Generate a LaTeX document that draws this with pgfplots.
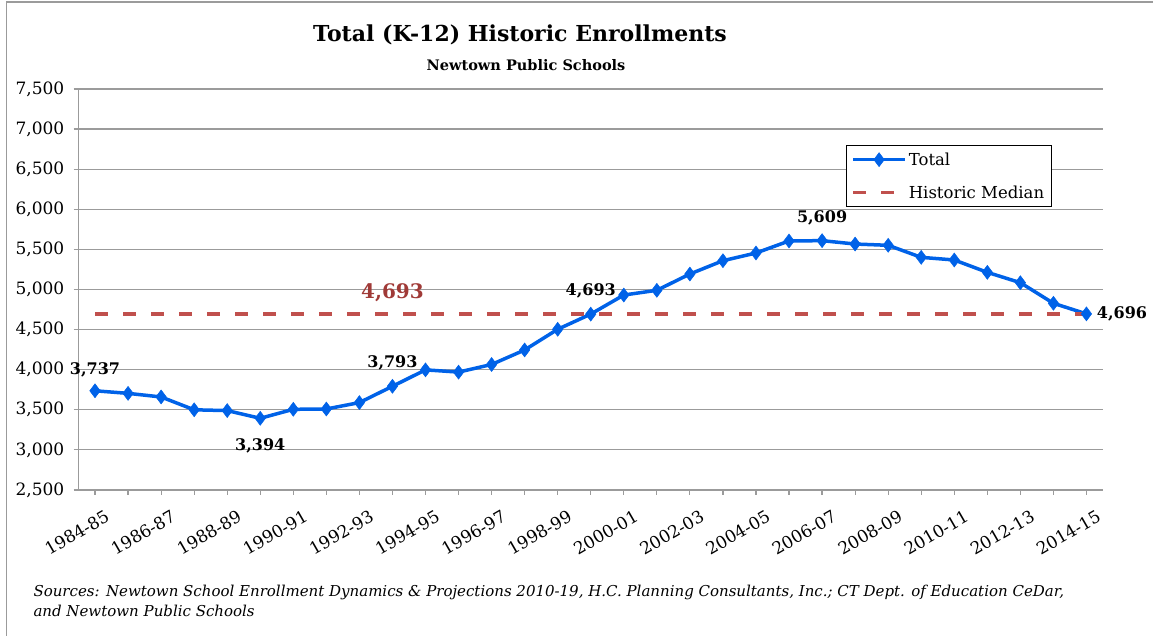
\documentclass[border=0pt]{standalone}
\usepackage{pgfplots}
\pgfplotsset{compat=1.18}
\usepackage{fontspec}
\setmainfont{DejaVu Serif}

\definecolor{totalblue}{RGB}{0,98,232}
\definecolor{medianred}{RGB}{192,80,77}
\definecolor{medlabel}{RGB}{160,58,55}
\definecolor{gridgray}{RGB}{155,155,155}

% Total K-12 enrollment, index 0 = 1984-85 ... 30 = 2014-15
\pgfplotstableread{
idx total
0  3737
1  3705
2  3660
3  3500
4  3490
5  3394
6  3506
7  3510
8  3590
9  3793
10 3998
11 3970
12 4065
13 4246
14 4504
15 4693
16 4931
17 4990
18 5193
19 5359
20 5455
21 5605
22 5609
23 5567
24 5551
25 5401
26 5368
27 5214
28 5085
29 4828
30 4696
}\enrolltable

\begin{document}
\begin{tikzpicture}
\draw[gridgray, line width=1.2pt] (6.5pt,0pt) -- (6.5pt,634pt) -- (1153pt,634pt);

\node[font=\bfseries\fontsize{22}{26}\selectfont] at (520pt,601pt) {Total (K-12) Historic Enrollments};
\node[font=\bfseries\fontsize{14.5}{17}\selectfont] at (526pt,571pt) {Newtown Public Schools};

\begin{axis}[
    at={(78.5pt,146pt)}, anchor=south west,
    scale only axis,
    width=1024.5pt, height=401pt,
    xmin=-0.5, xmax=30.5,
    ymin=2500, ymax=7500,
    ytick={2500,3000,...,7500},
    xtick={0,...,30},
    xticklabels={1984-85,,1986-87,,1988-89,,1990-91,,1992-93,,1994-95,,1996-97,,1998-99,,2000-01,,2002-03,,2004-05,,2006-07,,2008-09,,2010-11,,2012-13,,2014-15},
    axis x line=bottom, axis y line=left,
    axis line style={gridgray, line width=1.2pt, -},
    ymajorgrids,
    grid style={gridgray, line width=1.2pt},
    tick style={gridgray, line width=1.2pt},
    tick align=outside,
    major tick length=5pt,
    /pgf/number format/assume math mode=true,
    /pgf/number format/1000 sep={,},
    yticklabel style={font=\fontsize{17}{20}\selectfont, inner sep=0pt, xshift=-9pt},
    xticklabel style={font=\fontsize{17}{20}\selectfont, rotate=30, anchor=north east, inner sep=1pt, xshift=2pt, yshift=-16pt},
    legend style={at={(0.749,0.860)}, anchor=north west, draw=black, line width=1pt,
                  font=\fontsize{16.5}{20}\selectfont, row sep=15pt, inner sep=5pt},
    legend cell align=left,
    legend image code/.code={\draw[mark repeat=2,mark phase=2,#1] plot coordinates {(0pt,0pt)(26pt,0pt)(52pt,0pt)};},
    clip=false,
]
\addplot[totalblue, line width=3.5pt, mark=diamond*, mark size=7pt,
         mark options={solid, line width=0.5pt}] table[x=idx, y=total] {\enrolltable};
\addlegendentry{Total}
\addplot[medianred, line width=3.5pt, dash pattern=on 13pt off 15pt] coordinates {(0,4693) (30,4693)};
\addlegendentry{Historic Median}

\node[font=\bfseries\fontsize{16}{19}\selectfont, yshift=21pt] at (axis cs:0,3737) {3,737};
\node[font=\bfseries\fontsize{16}{19}\selectfont, yshift=-28pt] at (axis cs:5,3394) {3,394};
\node[font=\bfseries\fontsize{16}{19}\selectfont, yshift=23pt] at (axis cs:9,3793) {3,793};
\node[font=\bfseries\fontsize{16}{19}\selectfont, yshift=23pt] at (axis cs:15,4693) {4,693};
\node[font=\bfseries\fontsize{16}{19}\selectfont, yshift=23pt] at (axis cs:22,5609) {5,609};
\node[font=\bfseries\fontsize{16}{19}\selectfont, anchor=west, xshift=7pt] at (axis cs:30,4696) {4,696};
\node[font=\bfseries\fontsize{20}{24}\selectfont, text=medlabel] at (axis cs:9,4956) {4,693};
\end{axis}

\node[anchor=base west, font=\itshape\fontsize{15}{18}\selectfont] at (30pt,39pt) {Sources: Newtown School Enrollment Dynamics \& Projections 2010-19, H.C. Planning Consultants, Inc.; CT Dept. of Education CeDar,};
\node[anchor=base west, font=\itshape\fontsize{15}{18}\selectfont] at (30pt,19.5pt) {and Newtown Public Schools};

\pgfresetboundingbox
\path[use as bounding box] (0pt,0pt) rectangle (1153pt,636pt);
\end{tikzpicture}
\end{document}
